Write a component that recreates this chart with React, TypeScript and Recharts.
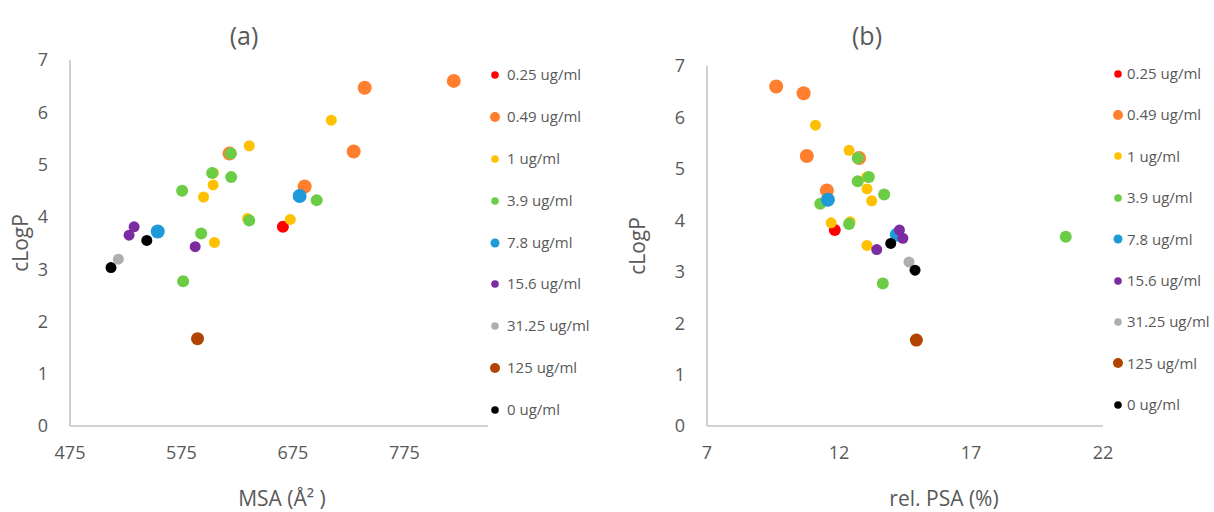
import React from 'react';
import { ScatterChart, Scatter, XAxis, YAxis, Legend } from 'recharts';

// Series (concentration) names, in legend order
const seriesNames = ['0.25 ug/ml', '0.49 ug/ml', '1 ug/ml', '3.9 ug/ml', '7.8 ug/ml', '15.6 ug/ml', '31.25 ug/ml', '125 ug/ml', '0 ug/ml'];

// cLogP, MSA (Å²) and rel. PSA (%) per series
const clogp_025 = [3.81];
const msa_025 = [666];
const psa_025 = [11.84];

const clogp_049 = [6.6, 6.47, 5.25, 4.58, 5.21];
const msa_049 = [819.3, 739.4, 729.5, 685.5, 618.1];
const psa_049 = [9.62, 10.66, 10.78, 11.54, 12.76];

const clogp_1 = [5.85, 5.36, 4.84, 4.61, 4.38, 3.97, 3.95, 3.51];
const msa_1 = [709.4, 635.8, 603.7, 603.4, 594.8, 634.3, 672.6, 604.6];
const psa_1 = [11.11, 12.38, 13.05, 13.06, 13.24, 12.42, 11.7, 13.06];

const clogp_39 = [5.21, 4.84, 4.76, 4.5, 4.32, 3.93, 3.68, 2.77];
const msa_39 = [619.3, 602.5, 619.6, 575.6, 696.3, 635.8, 592.7, 576.5];
const psa_39 = [12.71, 13.13, 12.71, 13.71, 11.29, 12.38, 20.59, 13.66];

const clogp_78 = [4.4, 3.72];
const msa_78 = [681, 553.7];
const psa_78 = [11.58, 14.19];

const clogp_156 = [3.81, 3.65, 3.43];
const msa_156 = [532.5, 528, 587.3];
const psa_156 = [14.29, 14.42, 13.43];

const clogp_3125 = [3.19];
const msa_3125 = [518.4];
const psa_3125 = [14.65];

const clogp_125 = [1.67];
const msa_125 = [589.4];
const psa_125 = [14.93];

const clogp_0 = [3.03, 3.55];
const msa_0 = [511.8, 543.9];
const psa_0 = [14.88, 13.96];

// Axis ticks
const yTicks = [0, 1, 2, 3, 4, 5, 6, 7];
const msaTicks = [475, 575, 675, 775];
const psaTicks = [7, 12, 17, 22];

// Styles
const colors = ['#FF0000', '#FF7F2F', '#FFC000', '#6ACD45', '#1E9AD8', '#7A2CA0', '#AEAEAE', '#B04400', '#000000'];
const radii = [6, 7, 5.5, 6, 7, 5.5, 5.5, 6.5, 5.5];
const legendRadii = [3.8, 5, 3.8, 3.8, 4.5, 3.8, 3.8, 5, 3.8];

const clogps = [clogp_025, clogp_049, clogp_1, clogp_39, clogp_78, clogp_156, clogp_3125, clogp_125, clogp_0];
const msas = [msa_025, msa_049, msa_1, msa_39, msa_78, msa_156, msa_3125, msa_125, msa_0];
const psas = [psa_025, psa_049, psa_1, psa_39, psa_78, psa_156, psa_3125, psa_125, psa_0];

const TEXT = '#595959';
const AXIS = '#C4C4C4';
const FONT = '"Open Sans", sans-serif';

function makeLegend(markerX: number, textX: number, rowH: number) {
  return (props: any) => {
    const payload = [...(props.payload || [])].sort(
      (a: any, b: any) => seriesNames.indexOf(a.value) - seriesNames.indexOf(b.value)
    );
    return (
      <div style={{ position: 'relative', width: '100%' }}>
        {payload.map((p: any, i: number) => {
          const idx = seriesNames.indexOf(p.value);
          const r = legendRadii[idx];
          return (
            <div key={i} style={{ position: 'relative', height: rowH }}>
              <svg width={14} height={14} style={{ position: 'absolute', left: markerX - 7, top: rowH / 2 - 7 }}>
                <circle cx={7} cy={7} r={r} fill={colors[idx]} />
              </svg>
              <span style={{ position: 'absolute', left: textX, top: 0, lineHeight: rowH + 'px', fontSize: 15, color: TEXT, fontFamily: FONT, whiteSpace: 'nowrap' }}>{p.value}</span>
            </div>
          );
        })}
      </div>
    );
  };
}

function Panel(props: { xs: number[][]; xDomain: number[]; xTicks: number[]; xLabel: string; xLabelDx: number; width: number; marginTop: number; marginLeft: number; marginRight: number; legendW: number; legendLeft: number; legendTop: number; rowH: number; markerX: number; textX: number; yLabelOffset: number }) {
  const p = props;
  return (
    <ScatterChart width={p.width} height={512} margin={{ top: p.marginTop, right: p.marginRight, left: p.marginLeft, bottom: 0 }}>
      <XAxis
        type="number"
        dataKey="x"
        domain={p.xDomain}
        ticks={p.xTicks}
        allowDataOverflow
        height={86}
        tickLine={false}
        tickSize={0}
        tickMargin={20}
        axisLine={{ stroke: AXIS, strokeWidth: 1.6 }}
        tick={{ fill: TEXT, fontSize: 18, fontFamily: FONT }}
        label={{ value: p.xLabel, position: 'insideBottom', offset: 6, dx: p.xLabelDx, style: { fill: TEXT, fontSize: 21, fontFamily: FONT } }}
      />
      <YAxis
        type="number"
        dataKey="y"
        domain={[0, 7]}
        ticks={yTicks}
        width={70}
        tickLine={false}
        tickSize={0}
        tickMargin={22}
        axisLine={{ stroke: AXIS, strokeWidth: 1.6 }}
        tick={{ fill: TEXT, fontSize: 18, fontFamily: FONT }}
        label={{ value: 'cLogP', angle: -90, position: 'insideLeft', offset: p.yLabelOffset, style: { fill: TEXT, fontSize: 21, fontFamily: FONT, textAnchor: 'middle' } }}
      />
      <Legend
        layout="vertical"
        align="right"
        verticalAlign="top"
        wrapperStyle={{ left: p.legendLeft, top: p.legendTop, width: p.legendW, height: p.rowH * 9 }}
        content={makeLegend(p.markerX, p.textX, p.rowH)}
      />
      {seriesNames.map((name, si) => (
        <Scatter
          key={name}
          name={name}
          data={p.xs[si].map((x, i) => ({ x, y: clogps[si][i] }))}
          fill={colors[si]}
          isAnimationActive={false}
          shape={(sp: any) => <circle cx={sp.cx} cy={sp.cy} r={radii[si]} fill={colors[si]} />}
        />
      ))}
    </ScatterChart>
  );
}

export default function App() {
  return (
    <div style={{ position: 'absolute', left: 0, top: 0, width: 1214, height: 512, background: '#fff', fontFamily: FONT, overflow: 'hidden' }}>
      <div style={{ position: 'absolute', left: 0, top: 0 }}>
        <Panel xs={msas} xDomain={[475, 850]} xTicks={msaTicks} xLabel="MSA (Å² )" xLabelDx={3} width={620} marginTop={60} marginLeft={0} marginRight={7} legendW={125} legendLeft={486} legendTop={54} rowH={41.9} markerX={9} textX={21} yLabelOffset={21} />
      </div>
      <div style={{ position: 'absolute', left: 610, top: 0 }}>
        <Panel xs={psas} xDomain={[7, 22]} xTicks={psaTicks} xLabel="rel. PSA (%)" xLabelDx={39} width={604} marginTop={66} marginLeft={27} marginRight={7} legendW={104} legendLeft={500} legendTop={53} rowH={41.4} markerX={8} textX={17} yLabelOffset={1} />
      </div>
      <div style={{ position: 'absolute', left: 194, top: 15, width: 100, textAlign: 'center', fontSize: 25, color: TEXT, lineHeight: '40px' }}>(a)</div>
      <div style={{ position: 'absolute', left: 817, top: 15, width: 100, textAlign: 'center', fontSize: 25, color: TEXT, lineHeight: '40px' }}>(b)</div>
    </div>
  );
}
